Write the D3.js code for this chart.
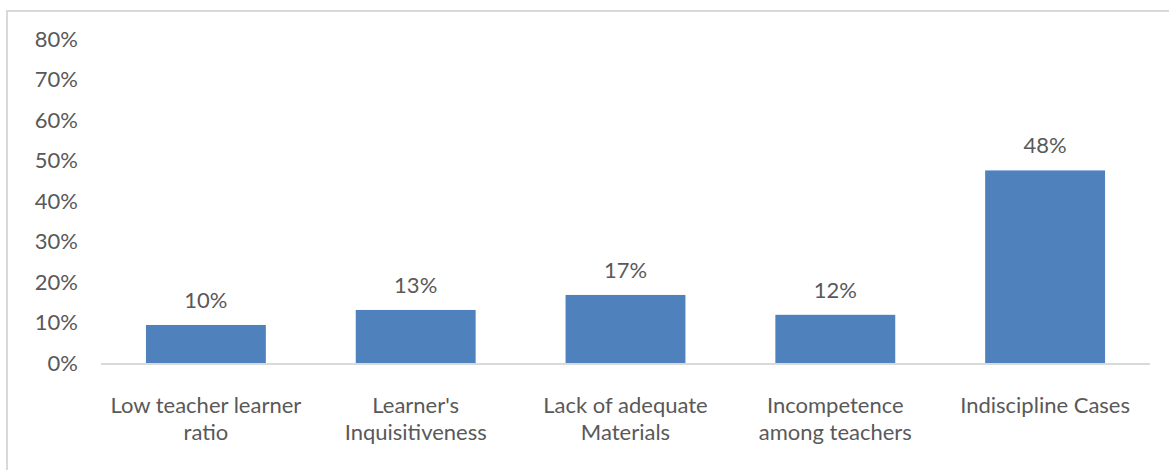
<!DOCTYPE html>
<html>
<head>
<meta charset="utf-8">
<script src="https://cdn.jsdelivr.net/npm/d3@7"></script>
<style>
  html, body { margin: 0; padding: 0; background: #fff; }
  svg { display: block; font-family: Lato, "Open Sans", sans-serif; font-weight: 400; }
</style>
</head>
<body>
<svg id="chart" width="1169" height="470"></svg>
<script>
// Problem categories and the share of responses (percent)
const categories = [
  ["Low teacher learner", "ratio"],
  ["Learner's", "Inquisitiveness"],
  ["Lack of adequate", "Materials"],
  ["Incompetence", "among teachers"],
  ["Indiscipline Cases"]
];
const values = [9.5, 13.2, 16.9, 12.0, 47.6];
const yTicks = [0, 10, 20, 30, 40, 50, 60, 70, 80];

const svg = d3.select("#chart");
const W = 1169, H = 470;
const textColor = "#595959";
const fontSize = 22;

// Outer chart frame (extends past the right and bottom edges)
svg.append("rect")
  .attr("x", 7).attr("y", 11)
  .attr("width", W + 20).attr("height", H + 20)
  .attr("fill", "none")
  .attr("stroke", "#d9d9d9")
  .attr("stroke-width", 2);

const plot = { left: 101, right: 1150, top: 39, bottom: 363.5 };

const x = d3.scaleBand()
  .domain(d3.range(categories.length))
  .range([plot.left, plot.right])
  .paddingInner(90 / 210)
  .paddingOuter(45 / 210);

const y = d3.scaleLinear()
  .domain([0, 80])
  .range([plot.bottom, plot.top]);

// Y axis labels (no axis line or grid)
const yAxis = d3.axisLeft(y)
  .tickValues(yTicks)
  .tickFormat(d => d + "%")
  .tickSize(0)
  .tickPadding(0);

const gy = svg.append("g")
  .attr("transform", "translate(78,0)")
  .call(yAxis);
gy.select(".domain").remove();
gy.selectAll("text")
  .attr("fill", textColor)
  .style("font-size", fontSize + "px")
  .style("font-family", "Lato, 'Open Sans', sans-serif");

// Bars
svg.append("g").selectAll("rect")
  .data(values)
  .join("rect")
  .attr("x", (d, i) => x(i))
  .attr("y", d => y(d))
  .attr("width", x.bandwidth())
  .attr("height", d => y(0) - y(d))
  .attr("fill", "#4f81bd");

// Category axis baseline
svg.append("line")
  .attr("x1", plot.left).attr("x2", plot.right)
  .attr("y1", y(0) + 0.5).attr("y2", y(0) + 0.5)
  .attr("stroke", "#d9d9d9")
  .attr("stroke-width", 2);

// Value labels above bars
svg.append("g").selectAll("text")
  .data(values)
  .join("text")
  .attr("x", (d, i) => x(i) + x.bandwidth() / 2)
  .attr("y", d => y(d) - 17)
  .attr("text-anchor", "middle")
  .attr("fill", textColor)
  .style("font-size", fontSize + "px")
  .text(d => Math.round(d) + "%");

// Category labels, wrapped onto two lines
const labels = svg.append("g").selectAll("text")
  .data(categories)
  .join("text")
  .attr("x", (d, i) => x(i) + x.bandwidth() / 2)
  .attr("y", 413)
  .attr("text-anchor", "middle")
  .attr("fill", textColor)
  .style("font-size", fontSize + "px");

labels.selectAll("tspan")
  .data(d => d)
  .join("tspan")
  .attr("x", function () { return this.parentNode.getAttribute("x"); })
  .attr("dy", (d, i) => i === 0 ? 0 : 27)
  .text(d => d);
</script>
</body>
</html>
